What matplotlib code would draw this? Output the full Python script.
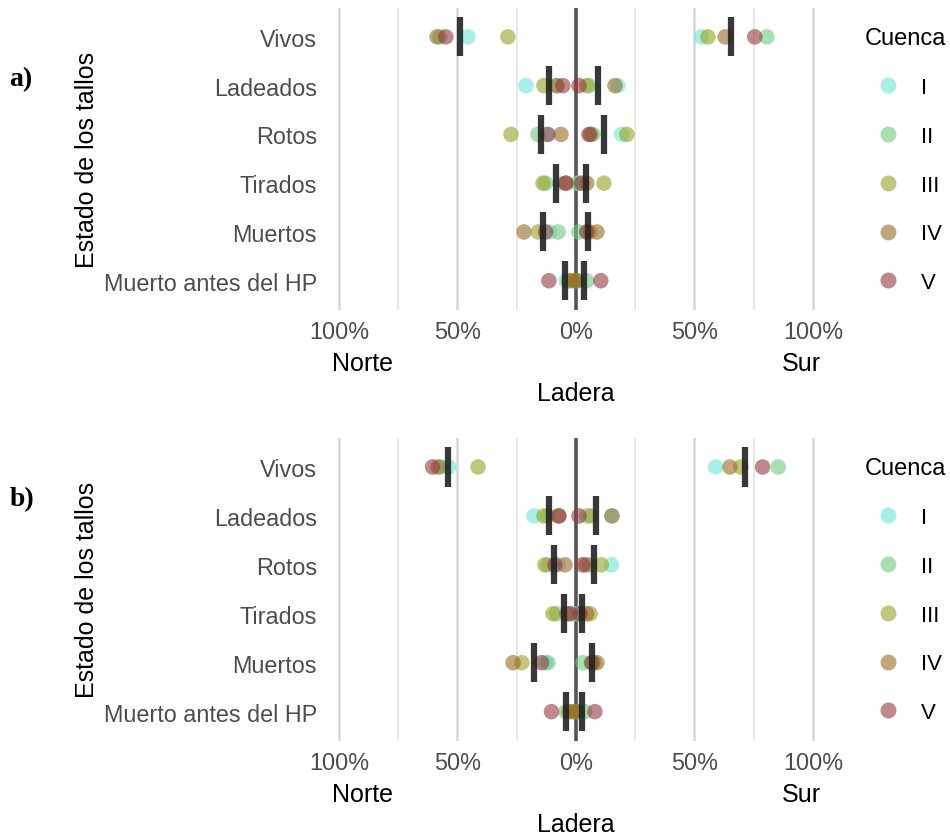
import numpy as np
import matplotlib.pyplot as plt
from matplotlib.lines import Line2D

plt.rcParams['font.family'] = ['Liberation Sans', 'DejaVu Sans']

estados = ['Vivos', 'Ladeados', 'Rotos', 'Tirados', 'Muertos', 'Muerto antes del HP']
cuencas = ['I', 'II', 'III', 'IV', 'V']
colores = ['#6be6d9', '#6ecb7f', '#99a321', '#996b25', '#93393f']

# porcentajes por estado (filas) y cuenca (columnas: I..V)
norte_a = [[45.6, 57.4, 28.7, 58.6, 54.9],
           [21.1, 8.2, 13.5, 8.0, 5.5],
           [12.5, 16.0, 27.4, 6.3, 11.8],
           [6.8, 12.8, 13.9, 4.2, 4.3],
           [11.0, 7.5, 15.9, 21.9, 12.8],
           [4.2, 3.1, 3.0, 1.3, 11.4]]
sur_a = [[53.0, 80.6, 55.7, 63.0, 75.5],
         [17.7, 5.5, 4.6, 16.5, 1.3],
         [19.3, 7.2, 21.5, 6.2, 5.5],
         [0.5, 1.2, 11.8, 4.6, 2.5],
         [4.5, 1.3, 6.0, 8.9, 4.6],
         [0.3, 4.6, 0.6, 0.3, 10.5]]

norte_b = [[53.6, 57.0, 41.3, 58.2, 60.5],
           [17.7, 11.8, 13.5, 7.2, 7.2],
           [7.4, 11.8, 13.1, 4.6, 8.9],
           [1.2, 8.2, 9.7, 3.8, 2.5],
           [12.8, 11.8, 22.8, 26.5, 14.5],
           [2.2, 4.2, 3.0, 1.3, 10.3]]
sur_b = [[59.0, 85.4, 69.6, 65.0, 78.8],
         [15.2, 4.6, 6.3, 15.2, 1.3],
         [15.0, 5.8, 10.7, 4.2, 2.8],
         [0.5, 1.0, 6.0, 4.5, 1.8],
         [7.0, 3.0, 7.5, 8.9, 6.6],
         [0.3, 3.8, 0.3, 0.5, 8.0]]

fig = plt.figure(figsize=(9.5, 8.37), dpi=100)
W, H = 950, 837


def panel(ax, norte, sur):
    norte = -np.array(norte)
    sur = np.array(sur)
    y = np.arange(len(estados))
    for v in [-100, -50, 50, 100]:
        ax.axvline(v, color='#d6d6d6', lw=1.8, zorder=0)
    for v in [-75, -25, 25, 75]:
        ax.axvline(v, color='#e2e2e2', lw=1.1, zorder=0)
    ax.axvline(0, color='#555555', lw=2.6, zorder=1)
    for j in range(len(cuencas)):
        ax.scatter(norte[:, j], y, s=125, color=colores[j], alpha=0.6,
                   edgecolors='none', zorder=2)
        ax.scatter(sur[:, j], y, s=125, color=colores[j], alpha=0.6,
                   edgecolors='none', zorder=2)
    # medias
    ax.vlines(norte.mean(axis=1), y - 0.4, y + 0.4, color='#222222', lw=4.5, alpha=0.9, zorder=3)
    ax.vlines(sur.mean(axis=1), y - 0.4, y + 0.4, color='#222222', lw=4.5, alpha=0.9, zorder=3)

    ax.set_xlim(-107, 107)
    ax.set_ylim(5.6, -0.6)
    ax.set_xticks([-100, -50, 0, 50, 100], ['100%', '50%', '0%', '50%', '100%'])
    ax.set_yticks(y, estados)
    ax.tick_params(length=0, labelsize=16.8, colors='#4d4d4d')
    ax.tick_params(axis='x', pad=7)
    ax.tick_params(axis='y', pad=4)
    for s in ax.spines.values():
        s.set_visible(False)

    ax.set_xlabel('Ladera', fontsize=18, va='center')
    ax.xaxis.set_label_coords(0.5, -83 / 302.4)
    ax.set_ylabel('Estado de los tallos', fontsize=18, va='center')
    ax.yaxis.set_label_coords(-0.465, 0.5)

    tr = ax.get_xaxis_transform()
    ax.annotate('Norte', xy=(-90, 0), xycoords=tr, xytext=(0, -38.5),
                textcoords='offset points', ha='center', va='center', fontsize=18)
    ax.annotate('Sur', xy=(95, 0), xycoords=tr, xytext=(0, -38.5),
                textcoords='offset points', ha='center', va='center', fontsize=18)

    handles = [Line2D([], [], ls='none', marker='o', markersize=11.5, color=c,
                      alpha=0.6, markeredgewidth=0) for c in colores]
    leg = ax.legend(handles, cuencas, title='Cuenca', loc='upper left',
                    bbox_to_anchor=(1.031, 1.001), frameon=False, fontsize=16,
                    title_fontsize=17, handlelength=2.1, handletextpad=0.4,
                    labelspacing=1.25)
    leg._legend_box.align = 'left'


ax_a = fig.add_axes([322.4 / W, 1 - 311 / H, 507 / W, 302.4 / H])
panel(ax_a, norte_a, sur_a)
ax_b = fig.add_axes([322.4 / W, 1 - 742 / H, 507 / W, 303.4 / H])
panel(ax_b, norte_b, sur_b)

fig.text(21 / W, 1 - 80 / H, 'a)', fontsize=20, family='Liberation Serif',
         weight='bold', ha='center', va='center')
fig.text(22 / W, 1 - 500 / H, 'b)', fontsize=20, family='Liberation Serif',
         weight='bold', ha='center', va='center')

fig.savefig('out.png', dpi=100)
